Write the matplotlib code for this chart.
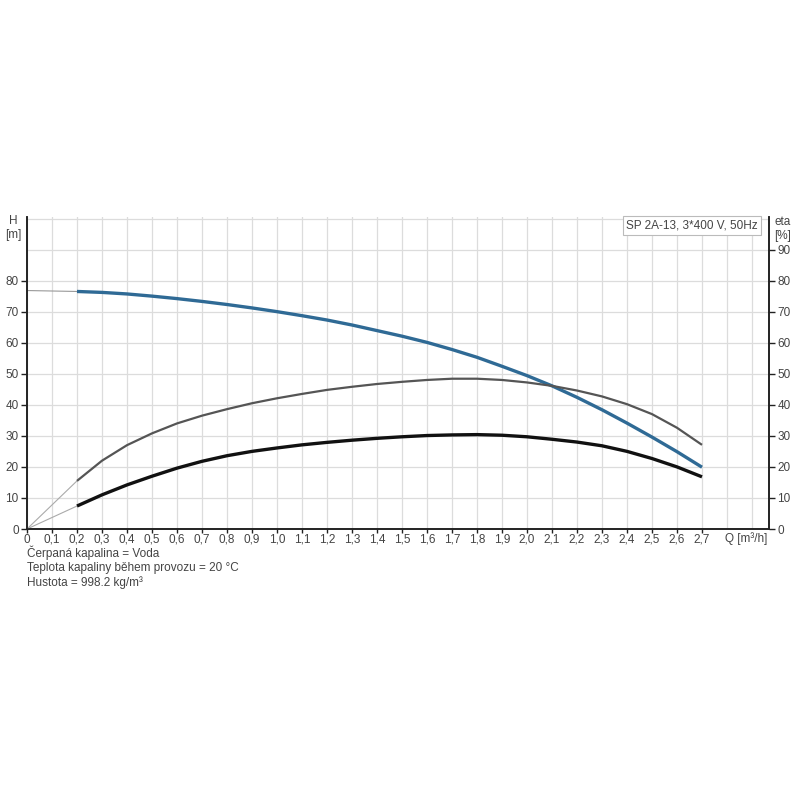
import numpy as np
from matplotlib import pyplot as plt

plt.rcParams['font.family'] = ['Liberation Sans', 'DejaVu Sans']

# pump curve data
q = [0.2, 0.3, 0.4, 0.5, 0.6, 0.7, 0.8, 0.9, 1.0, 1.1, 1.2, 1.3, 1.4,
     1.5, 1.6, 1.7, 1.8, 1.9, 2.0, 2.1, 2.2, 2.3, 2.4, 2.5, 2.6, 2.7]
head = [76.5, 76.2, 75.7, 75.0, 74.2, 73.3, 72.3, 71.2, 70.0, 68.7, 67.3, 65.7, 63.9,
        62.1, 60.1, 57.8, 55.3, 52.4, 49.4, 46.1, 42.4, 38.4, 34.1, 29.6, 24.9, 19.9]
eta_pump = [15.5, 22.0, 27.0, 30.8, 34.0, 36.5, 38.6, 40.5, 42.1, 43.5, 44.8, 45.8, 46.7,
            47.4, 48.0, 48.4, 48.4, 48.0, 47.2, 46.1, 44.6, 42.7, 40.2, 37.0, 32.6, 27.1]
eta_total = [7.4, 11.0, 14.2, 17.0, 19.6, 21.8, 23.6, 25.0, 26.1, 27.1, 27.9, 28.6, 29.2,
             29.7, 30.1, 30.3, 30.4, 30.2, 29.7, 28.9, 28.0, 26.8, 25.0, 22.7, 20.0, 16.8]
h_shutoff = 76.8

x_ticks = [round(0.1 * i, 1) for i in range(28)]
x_labels = ['0'] + [('%.1f' % v).replace('.', ',') for v in x_ticks[1:]]

info = ['Čerpaná kapalina = Voda',
        'Teplota kapaliny během provozu = 20 °C',
        'Hustota = 998.2 kg/m³']

fig = plt.figure(figsize=(8, 8), dpi=100)
ax = fig.add_axes([27/800, 1-529/800, 742/800, 312/800])
ax2 = ax.twinx()

grid_c = '#dcdcdc'
tick_c = '#444444'

ax.set_xlim(0, 742/250)
ax.set_ylim(0, 312/3.105)
ax2.set_ylim(ax.get_ylim())

ax.set_xticks(x_ticks)
ax.set_xticklabels(x_labels)
ax.set_xticks([2.8, 2.9], minor=True)
ax.set_yticks(range(0, 90, 10))
ax.set_yticks([90, 100], minor=True)
ax2.set_yticks(range(0, 100, 10))

ax.grid(True, which='both', color=grid_c, lw=0.9)
ax.set_axisbelow(True)
ax.tick_params(which='minor', length=0)
ax.tick_params(axis='y', which='major', length=4, width=1, colors='#222222',
               labelcolor=tick_c, labelsize=8.5, pad=2)
ax.tick_params(axis='x', which='major', length=3, width=1, colors='#222222',
               labelcolor=tick_c, labelsize=8.5, pad=0.5)
ax2.tick_params(axis='y', length=4, width=1, colors='#222222',
                labelcolor=tick_c, labelsize=8.5, pad=2)

for a in (ax, ax2):
    a.spines['top'].set_visible(False)
    for s in ('left', 'bottom', 'right'):
        a.spines[s].set_color('#222222')
        a.spines[s].set_linewidth(1.2)

# thin extrapolated parts
ax.plot([0, q[0]], [h_shutoff, head[0]], color='#999999', lw=0.8)
ax2.plot([0, q[0]], [0, eta_pump[0]], color='#aaaaaa', lw=0.8)
ax2.plot([0, q[0]], [0, eta_total[0]], color='#aaaaaa', lw=0.8)

ax2.plot(q, eta_pump, color='#555555', lw=1.6, solid_capstyle='butt')
ax2.plot(q, eta_total, color='#111111', lw=2.4, solid_capstyle='butt')
ax.plot(q, head, color='#2f6a95', lw=2.4, solid_capstyle='butt', zorder=5)

fig.text(13/800, 1-228/800, 'H\n[m]', ha='center', va='center', fontsize=8.5,
         color=tick_c, linespacing=1.2)
fig.text(783/800, 1-229/800, 'eta\n[%]', ha='center', va='center', fontsize=8.5,
         color=tick_c, linespacing=1.2)
fig.text(746/800, 1-539/800, 'Q [m³/h]', ha='center', va='center', fontsize=8.5,
         color=tick_c)
ax.text(0.985, 0.992, 'SP 2A-13, 3*400 V, 50Hz', transform=ax.transAxes,
        ha='right', va='top', fontsize=8.5, color=tick_c, zorder=10,
        bbox=dict(boxstyle='square,pad=0.3', fc='white', ec='#bbbbbb', lw=0.8))

for i, line in enumerate(info):
    fig.text(27/800, 1-(553+15*i)/800, line, ha='left', va='center',
             fontsize=8.5, color=tick_c)

fig.savefig('out.png', dpi=100, facecolor='white')
